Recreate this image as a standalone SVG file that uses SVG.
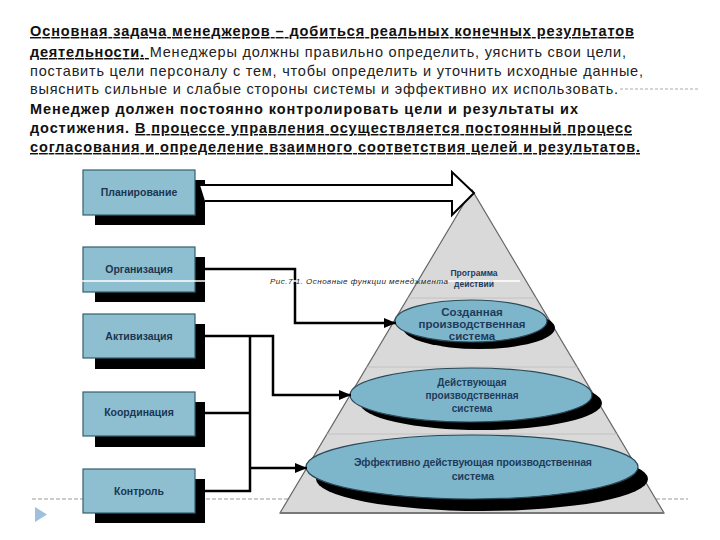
<svg xmlns="http://www.w3.org/2000/svg" width="720" height="540" viewBox="0 0 720 540">
  <style>
    .t { font-family: "Liberation Sans", Arial, sans-serif; font-size: 14.5px; fill: #222; }
    .b { font-weight: bold; fill: #111; }
    .u { text-decoration: underline; }
    .box { fill: #8dbfd0; stroke: #35606f; stroke-width: 1.2; }
    .sh { fill: #000; }
    .bl { font-family: "Liberation Sans", Arial, sans-serif; font-size: 10.5px; font-weight: bold; fill: #1c3550; text-anchor: middle; }
    .el { fill: #7db6cb; stroke: #2a4a58; stroke-width: 1.2; }
    .et { font-family: "Liberation Sans", Arial, sans-serif; font-weight: bold; fill: #1f3b5c; text-anchor: middle; }
    .con { fill: none; stroke: #000; stroke-width: 2.5; }
    .band { stroke: #c2c2c2; stroke-width: 1; }
  </style>
  <defs>
    <marker id="ah" viewBox="0 0 12 10" refX="12" refY="5" markerWidth="12" markerHeight="10" markerUnits="userSpaceOnUse" orient="auto">
      <path d="M0,0 L12,5 L0,10 Z" fill="#000"/>
    </marker>
    <clipPath id="tri"><polygon points="472,190 280,513 664,513"/></clipPath>
  </defs>

  <rect width="720" height="540" fill="#fff"/>

  <!-- Text block -->
  <g id="text">
    <text class="t b u" x="30" y="36" textLength="604" lengthAdjust="spacing">Основная задача менеджеров – добиться реальных конечных результатов</text>
    <text class="t" x="30" y="57" textLength="596" lengthAdjust="spacing"><tspan class="b u">деятельности. </tspan>Менеджеры должны правильно определить, уяснить свои цели,</text>
    <text class="t" x="30" y="76" textLength="613" lengthAdjust="spacing">поставить цели персоналу с тем, чтобы определить и уточнить исходные данные,</text>
    <text class="t" x="30" y="94" textLength="588" lengthAdjust="spacing">выяснить сильные и слабые стороны системы и эффективно их использовать.</text>
    <line x1="620" y1="89" x2="700" y2="89" stroke="#aaa" stroke-width="1" stroke-dasharray="3 2"/>
    <text class="t b" x="30" y="114" textLength="548" lengthAdjust="spacing">Менеджер должен постоянно контролировать цели и результаты их</text>
    <text class="t b" x="30" y="133" textLength="602" lengthAdjust="spacing">достижения. <tspan class="u">В процессе управления осуществляется постоянный процесс</tspan></text>
    <text class="t b u" x="30" y="152" textLength="610" lengthAdjust="spacing">согласования и определение взаимного соответствия целей и результатов.</text>
  </g>

  <!-- baseline dashed line -->
  <line x1="32" y1="499" x2="688" y2="499" stroke="#999" stroke-width="1" stroke-dasharray="4 2"/>

  <!-- Pyramid -->
  <g id="pyramid">
    <polygon points="472,190 280,513 664,513" fill="#d9d9d9" stroke="#666" stroke-width="1.2"/>
    <g clip-path="url(#tri)">
      <line class="band" x1="280" y1="298" x2="664" y2="298"/>
      <line class="band" x1="280" y1="367" x2="664" y2="367"/>
      <line class="band" x1="280" y1="434" x2="664" y2="434"/>
    </g>
    <line x1="280" y1="513" x2="664" y2="513" stroke="#777" stroke-width="2"/>
    <text class="et" x="474" y="276" font-size="8.5" font-weight="normal">Программа</text>
    <text class="et" x="474" y="287" font-size="8.5" font-weight="normal">действий</text>
  </g>

  <g id="level1">
    <ellipse class="sh" cx="479" cy="328" rx="76" ry="21"/>
    <ellipse class="el" cx="471" cy="321" rx="76" ry="21"/>
    <text class="et" x="472" y="316" font-size="11.5" font-weight="normal">Созданная</text>
    <text class="et" x="472" y="328" font-size="11.5" font-weight="normal">производственная</text>
    <text class="et" x="472" y="340" font-size="11.5" font-weight="normal">система</text>
  </g>

  <g id="level2">
    <ellipse class="sh" cx="481" cy="403" rx="121" ry="27"/>
    <ellipse class="el" cx="471" cy="395" rx="121" ry="27"/>
    <text class="et" x="472" y="386" font-size="10">Действующая</text>
    <text class="et" x="472" y="399" font-size="10">производственная</text>
    <text class="et" x="472" y="412" font-size="10">система</text>
  </g>

  <g id="level3">
    <ellipse class="sh" cx="482" cy="479" rx="166" ry="32"/>
    <ellipse class="el" cx="472" cy="467" rx="166" ry="32"/>
    <text class="et" x="473" y="466" font-size="10.5" textLength="238" lengthAdjust="spacing">Эффективно действующая производственная</text>
    <text class="et" x="473" y="480" font-size="10.5">система</text>
  </g>

  <!-- Boxes -->
  <g id="planning">
    <rect class="sh" x="95" y="180" width="110" height="45"/>
    <rect class="box" x="83" y="170" width="112" height="45"/>
    <text class="bl" x="139" y="196">Планирование</text>
  </g>
  <g id="organization">
    <rect class="sh" x="95" y="257" width="110" height="45"/>
    <rect class="box" x="83" y="247" width="112" height="45"/>
    <text class="bl" x="139" y="273">Организация</text>
  </g>
  <g id="activation">
    <rect class="sh" x="95" y="324" width="110" height="45"/>
    <rect class="box" x="83" y="314" width="112" height="44"/>
    <text class="bl" x="139" y="340">Активизация</text>
  </g>
  <g id="coordination">
    <rect class="sh" x="95" y="402" width="110" height="45"/>
    <rect class="box" x="83" y="392" width="112" height="44"/>
    <text class="bl" x="139" y="416">Координация</text>
  </g>
  <g id="control">
    <rect class="sh" x="95" y="479" width="110" height="44"/>
    <rect class="box" x="83" y="469" width="112" height="44"/>
    <text class="bl" x="139" y="495">Контроль</text>
  </g>

  <!-- Connectors -->
  <g id="connectors">
    <path d="M200,185 L452,185 L452,172 L474,193 L452,215 L452,201 L205,201" fill="#fff" stroke="#000" stroke-width="2" stroke-linejoin="miter"/>
    <path class="con" d="M205,269 H295 V323 H396" marker-end="url(#ah)"/>
    <path class="con" d="M205,336 H273 V395 H351" marker-end="url(#ah)"/>
    <path class="con" d="M250,336 V491 H205"/>
    <path class="con" d="M205,413 H250"/>
    <path class="con" d="M250,468 H307" marker-end="url(#ah)"/>
  </g>

  <!-- caption and white scan line -->
  <line x1="70" y1="281" x2="520" y2="281" stroke="#fff" stroke-width="1.5"/>
  <text x="270" y="284" font-family="'Liberation Sans', Arial, sans-serif" font-size="8" font-style="italic" fill="#222" textLength="178" lengthAdjust="spacing">Рис.7.1. Основные функции менеджмента</text>

  <!-- play icon -->
  <polygon points="35,507 47,514.5 35,522" fill="#9fbfdc"/>
</svg>
